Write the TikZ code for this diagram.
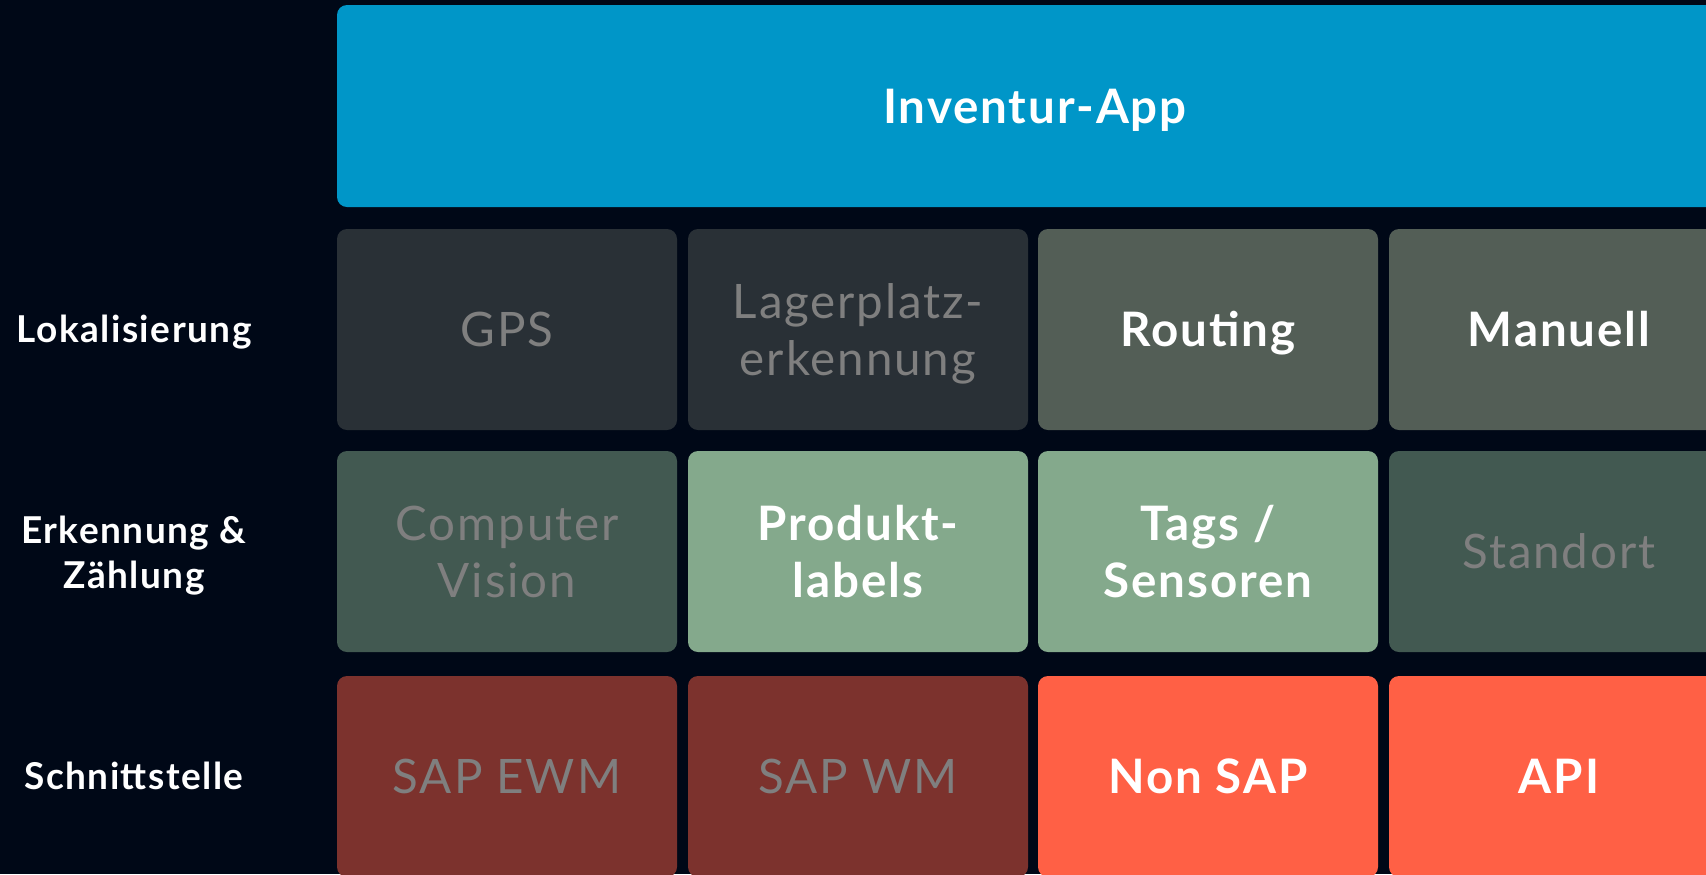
\documentclass[tikz,border=0pt]{standalone}
\usepackage{fontspec}
\setmainfont[LetterSpace=4]{Lato}
\definecolor{bg}{HTML}{000817}
\definecolor{appblue}{HTML}{0096C8}
\definecolor{rowAdark}{HTML}{293036}
\definecolor{rowAmid}{HTML}{535E56}
\definecolor{rowBdark}{HTML}{425951}
\definecolor{rowBlight}{HTML}{84A98C}
\definecolor{rowCdark}{HTML}{7C322D}
\definecolor{rowCbright}{HTML}{FF6045}
\definecolor{mutedtext}{HTML}{7F7F7F}
\tikzset{
  cell/.style={rounded corners=5pt, minimum width=170pt, minimum height=100.5pt,
    inner sep=0pt, align=center, text height=17pt, text depth=0pt,
    font=\fontsize{23.75}{28.5}\selectfont},
  twoline/.style={text height=45.5pt},
  off/.style={cell, text=mutedtext},
  on/.style={cell, text=white, font=\fontsize{23.75}{28.5}\selectfont\bfseries},
  rowlabel/.style={text=white, align=center, inner sep=0pt,
    text height=13.4pt, text depth=0pt,
    font=\fontsize{18.5}{22.5}\selectfont\bfseries},
  twolabel/.style={text height=35.9pt}
}
\begin{document}
\begin{tikzpicture}[x=0.5pt,y=-0.5pt]
\useasboundingbox (0,0) rectangle (1706,874);
\clip (0,0) rectangle (1706,874);
\fill[bg] (0,0) rectangle (1706,874);
% top
\node[on, fill=appblue, minimum width=698pt, minimum height=101pt] (app) at (1035,106) {Inventur-App};
% row labels
\node[rowlabel] (lok) at (134,329.5) {Lokalisierung};
\node[rowlabel, twolabel] (erk) at (134,553) {Erkennung \&\\Zählung};
\node[rowlabel] (sch) at (134,776.5) {Schnittstelle};
% row 1
\node[off, fill=rowAdark] (gps) at (507,329.5) {GPS};
\node[off, fill=rowAdark, twoline] (lager) at (858,329.5) {Lagerplatz-\\erkennung};
\node[on, fill=rowAmid] (routing) at (1208,329.5) {Routing};
\node[on, fill=rowAmid] (manuell) at (1559,329.5) {Manuell};
% row 2
\node[off, fill=rowBdark, twoline] (cv) at (507,551.5) {Computer\\Vision};
\node[on, fill=rowBlight, twoline] (prod) at (858,551.5) {Produkt-\\labels};
\node[on, fill=rowBlight, twoline] (tags) at (1208,551.5) {Tags /\\Sensoren};
\node[off, fill=rowBdark] (standort) at (1559,551.5) {Standort};
% row 3
\node[off, fill=rowCdark] (ewm) at (507,776.5) {SAP EWM};
\node[off, fill=rowCdark] (wm) at (858,776.5) {SAP WM};
\node[on, fill=rowCbright] (nonsap) at (1208,776.5) {Non SAP};
\node[on, fill=rowCbright] (api) at (1559,776.5) {API};
\end{tikzpicture}
\end{document}
